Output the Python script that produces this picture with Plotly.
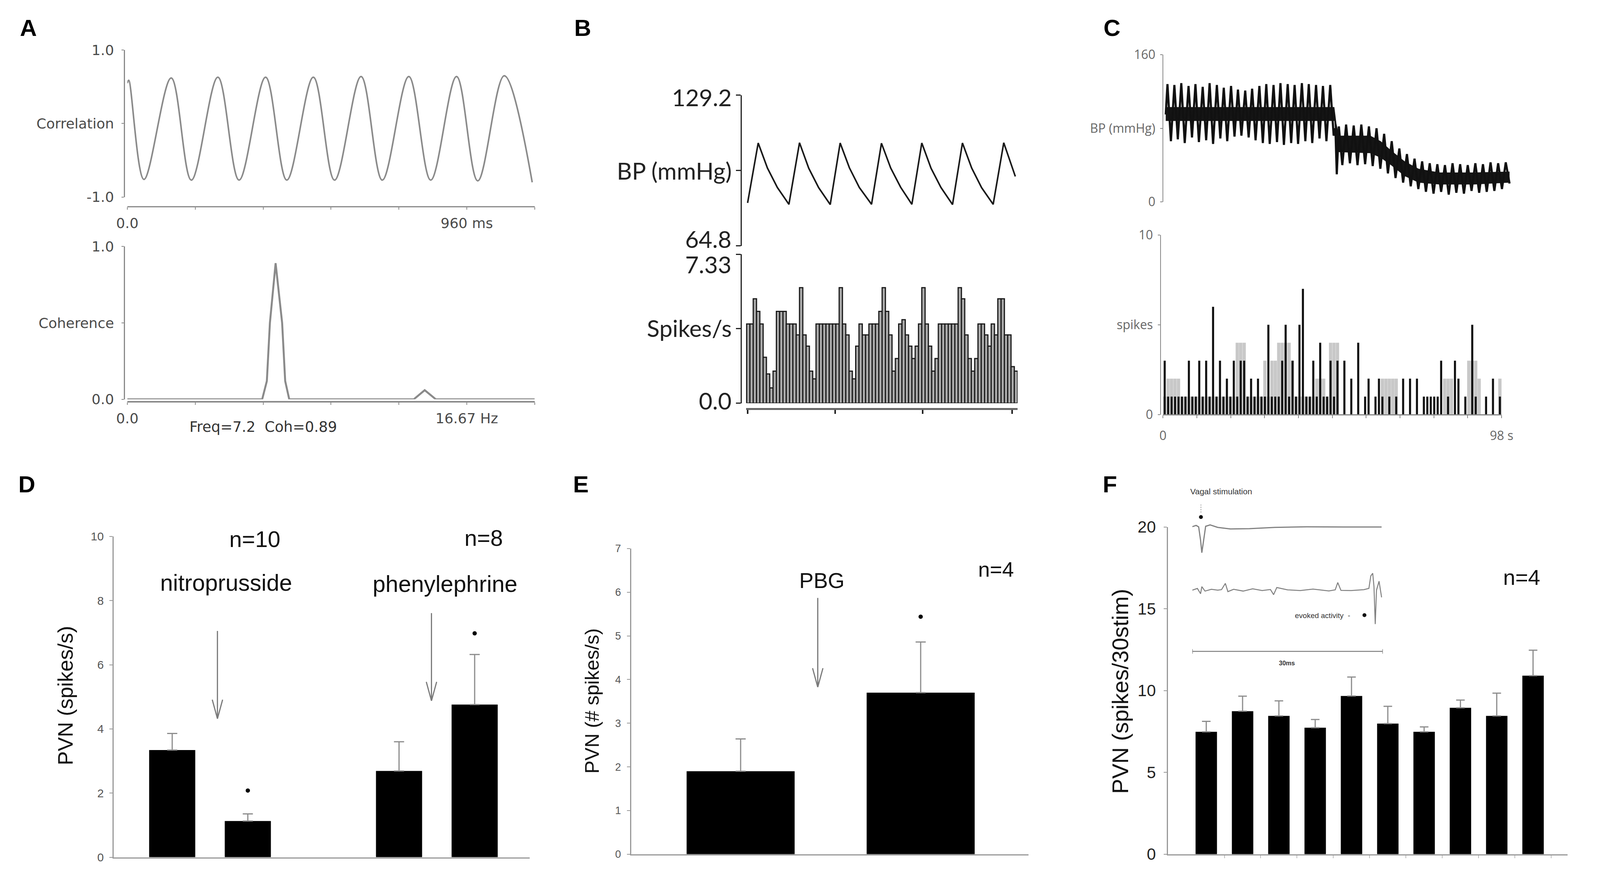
import plotly.graph_objects as go

# Reference frame (pixel positions below are measured in it); the page viewport is 4096x2282,
# the figure is sized to fill it exactly (8 px default body margin on each side).
W, H = 4550, 2282
FIG_W, FIG_H = 4080, 2266

# ======================= DATA =======================
# Panel A - autocorrelation (ms, r) and coherence (Hz, coh)
corr_ms = [0, 4, 47, 124, 181, 256, 316, 391, 451, 526, 586, 661, 721, 796, 858, 931, 991, 1066, 1145]
corr_val = [0.55, 0.59, -0.76, 0.62, -0.77, 0.63, -0.77, 0.63, -0.77, 0.63, -0.77, 0.64, -0.77, 0.64,
            -0.77, 0.64, -0.78, 0.65, -0.80]
corr_tickvals = [0, 192, 384, 576, 768, 960, 1152]
corr_ticktext = ["0.0", "", "", "", "", "960 ms", ""]
coh_hz = [0, 6.62, 6.85, 7.0, 7.28, 7.6, 7.75, 7.95, 14.06, 14.6, 15.15, 20]
coh_val = [0, 0, 0.12, 0.5, 0.89, 0.5, 0.12, 0, 0, 0.06, 0, 0]
coh_tickvals = [0, 3.333, 6.667, 10, 13.333, 16.667, 20]
coh_ticktext = ["0.0", "", "", "", "", "16.67 Hz", ""]

# Panel B - blood pressure (bin units, mmHg) and spikes/s per bin
b_bp_bin = [-0.2, 3.0, 5.8, 8.8, 12.3, 15.5, 18.3, 21.3, 24.8, 27.8, 30.6, 33.6, 37.3, 40.3, 43.1, 46.1,
            49.5, 52.5, 55.3, 58.3, 61.8, 64.8, 67.6, 70.6, 74.1, 77.3, 80.8]
b_bp_mmhg = [83.2, 108.8, 98.1, 89.8, 82.6, 108.9, 98.0, 89.7, 82.5, 108.8, 98.2, 89.8, 82.6, 108.7, 98.1,
             89.9, 82.6, 108.8, 98.0, 89.8, 82.5, 108.8, 98.1, 89.7, 82.6, 108.9, 94.5]
b_spikes = [3.90, 3.90, 5.14, 4.52, 3.90, 2.26, 1.44, 0.75, 1.58, 4.52, 4.52, 4.52, 3.90, 3.90, 3.90, 3.36,
            5.69, 3.36, 2.81, 1.58, 1.20, 3.90, 3.90, 3.90, 3.90, 3.90, 3.90, 3.90, 5.69, 3.90, 3.36, 1.58,
            1.20, 2.81, 3.90, 3.36, 3.36, 3.90, 3.90, 3.90, 4.52, 5.69, 4.52, 3.36, 1.58, 2.20, 3.90, 4.11,
            3.36, 2.81, 2.20, 2.81, 3.90, 5.69, 3.90, 2.81, 1.58, 2.20, 3.90, 3.90, 3.90, 3.90, 3.90, 3.90,
            5.69, 5.14, 3.36, 2.20, 1.58, 2.20, 3.90, 3.90, 3.36, 2.81, 3.90, 3.36, 5.14, 5.14, 3.36, 3.36,
            1.80, 1.58]
b_tick_bins = [-0.2, 26.3, 52.8, 79.8]
b_bp_ticks = [64.8, 97.0, 129.2]
b_spk_ticks = [0, 3.665, 7.33]
b_labels = ["129.2", "BP (mmHg)", "64.8", "7.33", "Spikes/s", "0.0"]

# Panel C - BP during nitroprusside (s, mmHg), dense core of the trace, and spikes per 1-s bin
c_bp_s = [0.8, 1.3, 2.3, 3.3, 4.3, 5.3, 6.3, 7.4, 8.4, 9.4, 10.4, 11.5, 12.5, 13.5, 14.5, 15.6, 16.6, 17.6,
          18.6, 19.7, 20.7, 21.7, 22.7, 23.8, 24.8, 25.8, 26.8, 27.9, 28.9, 29.9, 30.9, 32.0, 33.0, 34.0,
          35.0, 36.1, 37.1, 38.1, 39.1, 40.2, 41.2, 42.2, 43.2, 44.3, 45.3, 46.3, 47.3, 48.4, 49.4,
          49.9, 50.3, 50.9, 51.9, 53.0, 54.1, 55.2, 56.3, 57.4, 58.5, 59.6, 60.7, 61.8, 62.9, 64.0, 65.1,
          66.2, 67.3, 68.4, 69.5, 70.6, 71.7, 72.8, 73.9, 75.0, 76.1, 77.2, 78.3, 79.4, 80.5, 81.6, 82.7,
          83.8, 84.9, 86.0, 87.1, 88.2, 89.3, 90.4, 91.5, 92.6, 93.7, 94.8, 95.9, 97.0, 98.1, 99.2, 100.3]
c_bp_mmhg = [95, 128, 66, 127, 68, 129, 64, 126, 70, 128, 65, 125, 67, 129, 63, 127, 69, 124, 66, 126, 71,
             122, 72, 121, 70, 123, 67, 126, 64, 128, 63, 127, 65, 129, 62, 128, 64, 127, 63, 129, 66, 128,
             64, 127, 69, 126, 66, 127, 72,
             80, 30, 82, 40, 84, 42, 83, 40, 84, 41, 82, 39, 80, 36, 74, 31, 66, 26, 58, 21, 52, 17, 47, 14,
             44, 11, 42, 9, 41, 11, 40, 8, 42, 10, 41, 9, 40, 12, 42, 10, 41, 11, 43, 12, 42, 14, 43, 20]
c_core_s = [0.8, 49.6, 50.2, 51.0, 60.0, 63.0, 66.0, 70.0, 74.0, 80.0, 90.0, 100.3]
c_core_hi = [103, 103, 85, 72, 72, 66, 56, 44, 36, 32, 32, 33]
c_core_lo = [88, 88, 55, 54, 53, 48, 40, 28, 21, 19, 19, 21]
c_spk_black = [3, 1, 1, 1, 1, 1, 1, 3, 1, 1,
               3, 1, 3, 1, 6, 1, 3, 1, 2, 1,
               3, 1, 3, 3, 1, 2, 1, 2, 1, 1,
               5, 1, 1, 1, 3, 5, 1, 3, 1, 5,
               7, 1, 1, 3, 1, 4, 1, 1, 3, 1,
               3, 0, 3, 0, 2, 0, 4, 0, 1, 2,
               0, 1, 2, 1, 0, 1, 0, 1, 0, 2,
               0, 2, 0, 2, 0, 1, 1, 1, 1, 1,
               3, 0, 1, 0, 3, 2, 0, 1, 0, 5,
               1, 0, 0, 1, 0, 2, 0, 1]
c_spk_gray = [1, 2, 2, 2, 2, 1, 1, 1, 1, 1,
              1, 1, 1, 1, 1, 1, 1, 1, 1, 1,
              1, 4, 4, 4, 1, 1, 1, 1, 1, 3,
              1, 3, 3, 4, 4, 4, 4, 3, 1, 1,
              1, 1, 1, 1, 2, 2, 2, 1, 4, 4,
              4, 0, 0, 0, 0, 0, 0, 0, 0, 0,
              0, 0, 0, 2, 2, 2, 2, 2, 0, 0,
              0, 0, 0, 0, 0, 0, 0, 0, 0, 0,
              0, 2, 2, 2, 0, 0, 0, 0, 3, 3,
              3, 2, 0, 0, 0, 0, 0, 2]
c_bp_ticks = [0, 80, 160]
c_bp_ticktext = ["0", "BP (mmHg)", "160"]
c_spk_ticks = [0, 5, 10]
c_spk_ticktext = ["0", "spikes", "10"]
c_time_ticks = [0, 9.8, 19.6, 29.4, 39.2, 49, 58.8, 68.6, 78.4, 88.2, 98]
c_time_ticktext = ["0", "", "", "", "", "", "", "", "", "", "98 s"]

# Panel D - PVN spikes/s (control, nitroprusside, control, phenylephrine)
d_groups = ["control NP", "nitroprusside", "control PE", "phenylephrine"]
d_mean = [3.34, 1.13, 2.69, 4.76]
d_err_top = [3.86, 1.35, 3.60, 6.32]
d_sig = [None, 2.08, None, 6.98]

# Panel E - PVN (# spikes/s) before / after PBG
e_groups = ["control", "PBG"]
e_mean = [1.90, 3.70]
e_err_top = [2.64, 4.86]
e_sig = [None, 5.44]

# Panel F - PVN spikes / 30 stim
f_groups = [str(i) for i in range(1, 11)]
f_mean = [7.48, 8.74, 8.45, 7.73, 9.67, 7.98, 7.48, 8.95, 8.45, 10.91]
f_err_top = [8.12, 9.66, 9.37, 8.23, 10.83, 9.04, 7.78, 9.42, 9.84, 12.47]

# Panel F inset - vagal stimulation trace and evoked PVN activity (ms, arbitrary units)
inset_stim_ms = [0, 0.6, 1.0, 1.3, 1.5, 1.8, 2.1, 2.8, 4.0, 6.0, 9.0, 13.0, 18.0, 24.0, 29.8]
inset_stim_val = [77.6, 78.3, 77.5, 70.0, 63.0, 70.0, 77.8, 78.6, 77.2, 76.3, 76.5, 77.2, 77.5, 77.4, 77.4]
inset_pvn_ms = [0, 0.8, 1.3, 1.5, 2.0, 3.0, 4.0, 4.6, 5.2, 5.6, 6.5, 8.0, 9.5, 11.0, 12.3, 12.8, 13.3,
                15.0, 17.0, 19.0, 21.5, 22.5, 22.9, 23.4, 25.0, 27.0, 27.8, 28.1, 28.4, 28.6, 28.8, 29.0,
                29.4, 29.8]
inset_pvn_val = [42.0, 43.0, 40.0, 44.0, 41.5, 42.5, 42.0, 42.3, 45.8, 41.2, 42.5, 41.5, 42.8, 41.8, 42.4,
                 39.5, 43.5, 42.2, 41.8, 42.6, 41.6, 42.2, 46.3, 41.9, 41.8, 42.3, 43.0, 50.0, 51.5, 44.0,
                 23.0, 42.0, 47.0, 38.0]
inset_dot_ms = [1.36, 27.1]
inset_dot_val = [83.0, 28.0]
scale_bar_ms = [0, 30]

# ======================= LAYOUT HELPERS =======================
ARIAL = "Liberation Sans, Arial, sans-serif"
VERD = "DejaVu Sans, Verdana, sans-serif"
CALI = "Lato, Carlito, Calibri, sans-serif"
GILL = "Open Sans, Lato, sans-serif"


def xdom(p0, p1):
    return [p0 / W, p1 / W]


def ydom(pbot, ptop):
    return [1 - pbot / H, 1 - ptop / H]


def px(p):
    return p / W


def py(p):
    return 1 - p / H


def ann(text, x, y, size, color="#111", family=ARIAL, xanchor="center", yanchor="middle", angle=0):
    return dict(text=text, x=px(x), y=py(y), xref="paper", yref="paper", showarrow=False,
                font=dict(size=size, color=color, family=family), xanchor=xanchor, yanchor=yanchor,
                textangle=angle)


def arrow(xp, ptop, ptip, color="#7a7a7a", width=3, hw=15, hh=50):
    segs = [((xp, ptop), (xp, ptip)), ((xp - hw, ptip - hh), (xp, ptip)), ((xp + hw, ptip - hh), (xp, ptip))]
    out = []
    for (x0, y0), (x1, y1) in segs:
        out.append(dict(type="line", xref="paper", yref="paper", x0=px(x0), y0=py(y0), x1=px(x1),
                        y1=py(y1), line=dict(color=color, width=width)))
    return out


fig = go.Figure()

# ---------- Panel A ----------
fig.add_trace(go.Scatter(x=corr_ms, y=corr_val, mode="lines", line=dict(color="#8a8a8a", width=4, shape="spline"),
                         xaxis="x", yaxis="y"))
fig.add_trace(go.Scatter(x=coh_hz, y=coh_val, mode="lines", line=dict(color="#8a8a8a", width=5),
                         xaxis="x2", yaxis="y2"))

# ---------- Panel B ----------
fig.add_trace(go.Scatter(x=b_bp_bin, y=b_bp_mmhg, mode="lines", line=dict(color="#1a1a1a", width=4),
                         xaxis="x3", yaxis="y3"))
fig.add_trace(go.Bar(x=list(range(len(b_spikes))), y=b_spikes, width=1.0,
                     marker=dict(color="#ababab", line=dict(color="#1a1a1a", width=3)),
                     xaxis="x4", yaxis="y4"))

# ---------- Panel C ----------
fig.add_trace(go.Scatter(x=c_core_s, y=c_core_hi, mode="lines", line=dict(color="#111", width=0),
                         xaxis="x5", yaxis="y5"))
fig.add_trace(go.Scatter(x=c_core_s, y=c_core_lo, mode="lines", line=dict(color="#111", width=0),
                         fill="tonexty", fillcolor="#151515", xaxis="x5", yaxis="y5"))
fig.add_trace(go.Scatter(x=c_bp_s, y=c_bp_mmhg, mode="lines", line=dict(color="#111", width=5.5),
                         xaxis="x5", yaxis="y5"))
c_bins = [i + 0.5 for i in range(len(c_spk_black))]
fig.add_trace(go.Bar(x=c_bins, y=c_spk_gray, width=0.95, marker=dict(color="#c8c8c8", line=dict(width=0)),
                     xaxis="x6", yaxis="y6"))
fig.add_trace(go.Bar(x=c_bins, y=c_spk_black, width=0.6, marker=dict(color="#111", line=dict(width=0)),
                     xaxis="x6", yaxis="y6"))

# ---------- Panel D ----------
d_pos = [1, 2, 4, 5]
fig.add_trace(go.Bar(x=d_pos, y=d_mean, width=0.61, marker=dict(color="black", line=dict(width=0)),
                     error_y=dict(type="data", symmetric=False,
                                  array=[t - m for t, m in zip(d_err_top, d_mean)],
                                  arrayminus=[0] * len(d_mean), color="#8c8c8c", thickness=3, width=13),
                     xaxis="x7", yaxis="y7"))
fig.add_trace(go.Scatter(x=d_pos, y=d_sig, mode="markers", marker=dict(color="black", size=11),
                         xaxis="x7", yaxis="y7"))

# ---------- Panel E ----------
e_pos = [1, 2]
fig.add_trace(go.Bar(x=e_pos, y=e_mean, width=0.6, marker=dict(color="black", line=dict(width=0)),
                     error_y=dict(type="data", symmetric=False,
                                  array=[t - m for t, m in zip(e_err_top, e_mean)],
                                  arrayminus=[0] * len(e_mean), color="#8c8c8c", thickness=3, width=13),
                     xaxis="x8", yaxis="y8"))
fig.add_trace(go.Scatter(x=e_pos, y=e_sig, mode="markers", marker=dict(color="black", size=11),
                         xaxis="x8", yaxis="y8"))

# ---------- Panel F ----------
f_pos = list(range(1, len(f_mean) + 1))
fig.add_trace(go.Bar(x=f_pos, y=f_mean, width=0.59, marker=dict(color="black", line=dict(width=0)),
                     error_y=dict(type="data", symmetric=False,
                                  array=[t - m for t, m in zip(f_err_top, f_mean)],
                                  arrayminus=[0] * len(f_mean), color="#8c8c8c", thickness=3, width=11),
                     xaxis="x9", yaxis="y9"))

# inset
fig.add_trace(go.Scatter(x=inset_stim_ms, y=inset_stim_val, mode="lines", line=dict(color="#808080", width=3),
                         xaxis="x10", yaxis="y10"))
fig.add_trace(go.Scatter(x=inset_pvn_ms, y=inset_pvn_val, mode="lines", line=dict(color="#808080", width=2.5),
                         xaxis="x10", yaxis="y10"))
fig.add_trace(go.Scatter(x=inset_dot_ms, y=inset_dot_val, mode="markers", marker=dict(color="#111", size=10),
                         xaxis="x10", yaxis="y10"))
fig.add_trace(go.Scatter(x=[inset_dot_ms[0], inset_dot_ms[0]], y=[inset_dot_val[0] + 2.5, inset_dot_val[0] + 7],
                         mode="lines", line=dict(color="#999", width=2, dash="dot"), xaxis="x10", yaxis="y10"))
sb_level = 7.7
fig.add_trace(go.Scatter(
    x=[scale_bar_ms[0], scale_bar_ms[0], None, scale_bar_ms[0], scale_bar_ms[1], None, scale_bar_ms[1], scale_bar_ms[1]],
    y=[sb_level - 1.3, sb_level + 1.3, None, sb_level, sb_level, None, sb_level - 1.3, sb_level + 1.3],
    mode="lines", line=dict(color="#808080", width=2.5), xaxis="x10", yaxis="y10"))

# ======================= AXES =======================
gA = "#8a8a8a"
tfA = dict(family=VERD, size=36, color="#4a4a4a")
tfC = dict(family=GILL, size=32, color="#666")

layout = dict(
    width=FIG_W, height=FIG_H, margin=dict(l=0, r=0, t=0, b=0), paper_bgcolor="white",
    plot_bgcolor="rgba(0,0,0,0)", showlegend=False, barmode="overlay",
    # A top
    xaxis=dict(domain=xdom(327, 1507), range=[0, 1152], anchor="free", position=py(512), showline=True,
               linecolor=gA, linewidth=3, ticks="outside", ticklen=6, tickwidth=2, tickcolor=gA,
               tickvals=corr_tickvals, ticktext=corr_ticktext, tickfont=tfA, showgrid=False, zeroline=False,
               ticklabelstandoff=4),
    yaxis=dict(domain=ydom(487, 100), range=[-1, 1], anchor="free", position=px(318), showline=True,
               linecolor=gA, linewidth=3, ticks="outside", ticklen=6, tickwidth=2, tickcolor=gA,
               tickvals=[-1, 0, 1], ticktext=["-1.0", "Correlation", "1.0"], tickfont=tfA, showgrid=False,
               zeroline=False, ticklabelstandoff=12),
    # A bottom
    xaxis2=dict(domain=xdom(327, 1507), range=[0, 20], anchor="free", position=py(1026), showline=True,
                linecolor=gA, linewidth=4, ticks="outside", ticklen=6, tickwidth=2, tickcolor=gA,
                tickvals=coh_tickvals, ticktext=coh_ticktext, tickfont=tfA, showgrid=False, zeroline=False,
                ticklabelstandoff=4),
    yaxis2=dict(domain=ydom(1020, 617), range=[0, 1], anchor="free", position=px(318), showline=True,
                linecolor=gA, linewidth=3, ticks="outside", ticklen=6, tickwidth=2, tickcolor=gA,
                tickvals=[0, 0.5, 1], ticktext=["0.0", "Coherence", "1.0"], tickfont=tfA, showgrid=False,
                zeroline=False, ticklabelstandoff=12),
    # B BP
    xaxis3=dict(domain=xdom(2119, 2906), range=[-0.7, 81.5], anchor="y3", visible=False),
    yaxis3=dict(domain=ydom(616, 219), range=[64.8, 129.2], anchor="free", position=px(2105), showline=True,
                linecolor="#222", linewidth=3, ticks="outside", ticklen=12, tickwidth=3, tickcolor="#222",
                tickvals=b_bp_ticks, showticklabels=False, showgrid=False, zeroline=False),
    # B spikes
    xaxis4=dict(domain=xdom(2119, 2906), range=[-0.7, 81.5], anchor="free", position=py(1045), showline=True,
                linecolor="#666", linewidth=5, ticks="outside", ticklen=10, tickwidth=4, tickcolor="#222",
                tickvals=b_tick_bins, showticklabels=False, showgrid=False, zeroline=False),
    yaxis4=dict(domain=ydom(1030, 638), range=[0, 7.33], anchor="free", position=px(2105), showline=True,
                linecolor="#222", linewidth=3, ticks="outside", ticklen=12, tickwidth=3, tickcolor="#222",
                tickvals=b_spk_ticks, showticklabels=False, showgrid=False, zeroline=False),
    # C BP
    xaxis5=dict(domain=xdom(3327, 3327 + 102 * 10.01), range=[0, 102], anchor="y5", visible=False),
    yaxis5=dict(domain=ydom(500, 112), range=[0, 160], anchor="free", position=px(3327), showline=True,
                linecolor="#888", linewidth=2, ticks="outside", ticklen=6, tickwidth=2, tickcolor="#888",
                tickvals=c_bp_ticks, ticktext=c_bp_ticktext, tickfont=tfC, showgrid=False, zeroline=False,
                ticklabelstandoff=6),
    # C spikes
    xaxis6=dict(domain=xdom(3327, 4308), range=[0, 98], anchor="free", position=py(1060), showline=True,
                linecolor="#888", linewidth=3, ticks="outside", ticklen=7, tickwidth=2, tickcolor="#888",
                tickvals=c_time_ticks, ticktext=c_time_ticktext, tickfont=tfC, showgrid=False, zeroline=False,
                ticklabelstandoff=18),
    yaxis6=dict(domain=ydom(1060, 587), range=[0, 10], anchor="free", position=px(3320), showline=True,
                linecolor="#888", linewidth=2, ticks="outside", ticklen=6, tickwidth=2, tickcolor="#888",
                tickvals=c_spk_ticks, ticktext=c_spk_ticktext, tickfont=tfC, showgrid=False, zeroline=False,
                ticklabelstandoff=6),
    # D
    xaxis7=dict(domain=xdom(287, 1493), range=[0.224, 5.73], anchor="y7", showline=True, linecolor="#999",
                linewidth=3, ticks="", showticklabels=False, showgrid=False, zeroline=False),
    yaxis7=dict(domain=ydom(2226, 1381), range=[0, 10], anchor="x7", showline=True, linecolor="#999",
                linewidth=3, ticks="outside", ticklen=8, tickwidth=2, tickcolor="#999",
                tickvals=[0, 2, 4, 6, 8, 10], tickfont=dict(family=ARIAL, size=30, color="#555"),
                showgrid=False, zeroline=False, ticklabelstandoff=8),
    # E
    xaxis8=dict(domain=xdom(1787, 2937), range=[0.393, 2.598], anchor="y8", showline=True, linecolor="#999",
                linewidth=3, ticks="", showticklabels=False, showgrid=False, zeroline=False),
    yaxis8=dict(domain=ydom(2218, 1413), range=[0, 7], anchor="x8", showline=True, linecolor="#999",
                linewidth=3, ticks="outside", ticklen=8, tickwidth=2, tickcolor="#999",
                tickvals=[0, 1, 2, 3, 4, 5, 6, 7], tickfont=dict(family=ARIAL, size=27, color="#555"),
                showgrid=False, zeroline=False, ticklabelstandoff=10),
    # F
    xaxis9=dict(domain=xdom(3342, 4499), range=[-0.05, 10.95], anchor="y9", showline=True, linecolor="#999",
                linewidth=3, ticks="outside", ticklen=7, tickwidth=2, tickcolor="#bbb",
                tickvals=[k + 0.5 for k in range(1, 11)], showticklabels=False, showgrid=False, zeroline=False),
    yaxis9=dict(domain=ydom(2218, 1356), range=[0, 20], anchor="x9", showline=True, linecolor="#999",
                linewidth=3, ticks="outside", ticklen=8, tickwidth=2, tickcolor="#999",
                tickvals=[0, 5, 10, 15, 20], tickfont=dict(family=ARIAL, size=42, color="#222"),
                showgrid=False, zeroline=False, ticklabelstandoff=12),
    # F inset
    xaxis10=dict(domain=xdom(3412, 3964), range=[0, 30], anchor="y10", visible=False),
    yaxis10=dict(domain=ydom(1720, 1250), range=[0, 100], anchor="x10", visible=False),
)

b_label_y = [224, 418, 598, 664, 832, 1023]
annotations = [
    ann("<b>A</b>", 40, 42, 60, "#000"), ann("<b>B</b>", 1646, 42, 60, "#000"), ann("<b>C</b>", 3179, 42, 60, "#000"),
    ann("<b>D</b>", 36, 1244, 60, "#000"), ann("<b>E</b>", 1641, 1244, 60, "#000"), ann("<b>F</b>", 3174, 1244, 60, "#000"),
    ann("Freq=7.2  Coh=0.89", 721, 1093, 37, "#333", VERD),
    # D
    ann("PVN (spikes/s)", 148, 1800, 54, "#111", ARIAL, angle=-90),
    ann("n=10", 697, 1388, 58), ann("nitroprusside", 613, 1504, 59),
    ann("n=8", 1359, 1385, 58), ann("phenylephrine", 1248, 1507, 59),
    # E
    ann("PVN (# spikes/s)", 1674, 1814, 50, "#111", ARIAL, angle=-90),
    ann("PBG", 2339, 1497, 55), ann("n=4", 2844, 1468, 54),
    # F
    ann("PVN (spikes/30stim)", 3203, 1789, 58, "#111", ARIAL, angle=-90),
    ann("n=4", 4366, 1489, 56),
    ann("Vagal stimulation", 3495, 1262, 21, "#333", ARIAL),
    ann("evoked activity  -", 3790, 1589, 19, "#333", ARIAL),
    ann("<b>30ms</b>", 3686, 1715, 16, "#333", ARIAL),
]
for lab, ly in zip(b_labels, b_label_y):
    annotations.append(ann(lab, 2080, ly, 60, "#222", CALI, xanchor="right"))
layout["annotations"] = annotations
layout["shapes"] = arrow(588, 1630, 1861) + arrow(1208, 1583, 1814) + arrow(2327, 1543, 1778)

fig.update_layout(**layout)
fig.write_html("out.html")
